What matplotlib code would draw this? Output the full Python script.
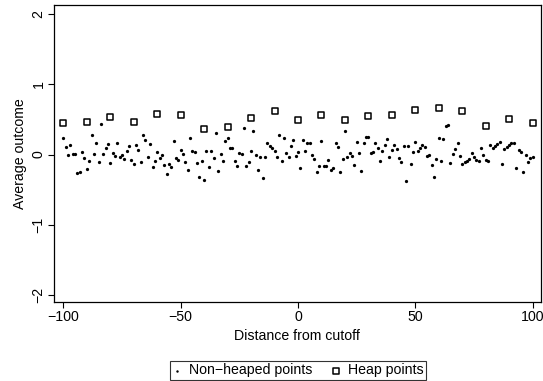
import numpy as np
import matplotlib
matplotlib.use("Agg")
import matplotlib.pyplot as plt

plt.rcParams['font.family'] = ['Liberation Sans', 'DejaVu Sans']

# Average outcome at each distance from the cutoff, observations off the heaps
dist = list(range(-100, 101))
nonheap = [
    0.230, 0.111, -0.007, 0.135, 0.002, 0.002, -0.268, -0.245, 0.040, -0.055,
    -0.207, -0.093, 0.277, 0.002, 0.159, -0.112, 0.429, 0.002, 0.087, 0.144,
    -0.126, 0.016, -0.017, 0.159, -0.031, -0.007, -0.069, 0.050, 0.125, -0.079,
    -0.135, 0.135, 0.064, -0.102, 0.277, 0.206, -0.031, 0.144, -0.173, -0.088,
    0.031, -0.055, -0.007, -0.150, -0.278, -0.140, -0.173, 0.196, -0.045, -0.079,
    0.064, 0.002, -0.112, -0.221, 0.239, 0.050, 0.031, -0.126, -0.325, -0.093,
    -0.363, 0.050, -0.183, 0.054, -0.055, 0.300, -0.235, 0.007, -0.093, 0.196,
    0.234, 0.087, 0.097, -0.093, -0.159, 0.016, 0.002, 0.372, -0.159, -0.102,
    0.054, 0.334, -0.007, -0.221, -0.031, -0.330, -0.031, 0.159, 0.125, 0.087,
    0.054, -0.041, 0.272, -0.093, 0.230, 0.016, -0.041, 0.121, 0.206, -0.022,
    0.040, -0.188, 0.201, 0.050, 0.163, 0.163, -0.007, -0.064, -0.245, -0.159,
    0.192, -0.159, -0.164, -0.079, -0.221, -0.188, 0.168, 0.111, -0.245, -0.064,
    0.334, -0.041, 0.026, -0.017, -0.150, 0.182, 0.016, -0.230, 0.159, 0.244,
    0.253, 0.016, 0.040, 0.159, 0.087, -0.093, 0.054, 0.135, 0.215, -0.031,
    0.064, 0.135, 0.078, -0.045, -0.102, 0.125, -0.382, 0.125, -0.135, 0.040,
    0.173, 0.054, 0.097, 0.135, 0.102, -0.017, -0.007, -0.154, -0.325, -0.069,
    0.239, -0.093, 0.220, 0.405, 0.419, -0.126, 0.002, 0.073, 0.159, -0.022,
    -0.140, -0.112, -0.093, -0.069, 0.016, -0.041, -0.079, -0.093, 0.087, -0.007,
    -0.079, -0.093, 0.135, 0.087, 0.121, 0.149, 0.173, -0.135, 0.073, 0.102,
    0.135, 0.159, 0.168, -0.197, 0.064, 0.040, -0.245, -0.007, -0.102, -0.055,
    -0.031,
]

# Average outcome of the heaped observations (multiples of 10)
heap_dist = list(range(-100, 101, 10))
heap = [0.45, 0.47, 0.53, 0.46, 0.58, 0.56, 0.37, 0.39, 0.52, 0.62, 0.49,
        0.57, 0.49, 0.55, 0.56, 0.63, 0.66, 0.62, 0.40, 0.50, 0.45]

xticks = [-100, -50, 0, 50, 100]
yticks = [-2, -1, 0, 1, 2]
FS = 10.2

fig = plt.figure(figsize=(5.43, 3.81), dpi=100)
ax = fig.add_axes([0.0994, 0.2073, 0.8966, 0.7797])

ax.scatter(dist, nonheap, s=5.5, color='black', linewidths=0,
           label='Non\u2212heaped points', zorder=3)
ax.scatter(heap_dist, heap, s=25, marker='s', facecolors='white',
           edgecolors='black', linewidths=1.1, label='Heap points', zorder=3)

ax.set_xlim(-104, 103.5)
ax.set_ylim(-2.1, 2.13)
ax.set_xticks(xticks)
ax.set_xticklabels([str(t).replace('-', '\u2212') for t in xticks])
ax.set_yticks(yticks)
ax.set_yticklabels([str(t).replace('-', '\u2212') for t in yticks],
                   rotation=90, va='center')
ax.tick_params(direction='out', length=4, width=0.8, labelsize=FS,
               colors='black', pad=2)
for sp in ax.spines.values():
    sp.set_linewidth(0.9)
    sp.set_color('black')

ax.set_xlabel('Distance from cutoff', fontsize=FS, labelpad=3)
ax.set_ylabel('Average outcome', fontsize=FS, labelpad=3)

leg = fig.legend(loc='lower center', bbox_to_anchor=(0.549, 0.0), ncol=2,
                 frameon=True, fancybox=False, fontsize=FS,
                 handlelength=0.7, handletextpad=0.5, columnspacing=1.3,
                 borderpad=0.15, borderaxespad=0.1, scatterpoints=1,
                 markerscale=0.75)
leg.get_frame().set_edgecolor('black')
leg.get_frame().set_linewidth(0.8)

fig.savefig('out.png', dpi=100, facecolor='white')
